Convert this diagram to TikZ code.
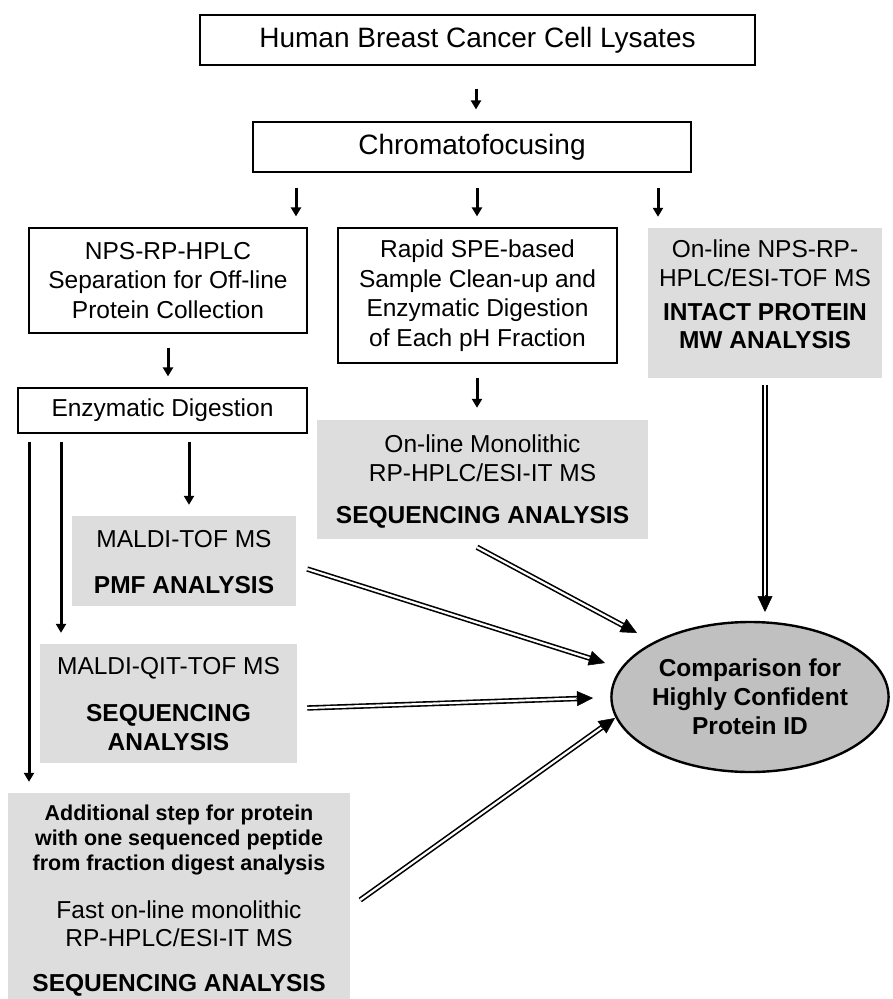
\documentclass[tikz,border=0pt]{standalone}
\usepackage{fontspec}
\setmainfont{Liberation Sans}
\usetikzlibrary{arrows.meta,calc,shapes.geometric}
\definecolor{boxgrey}{HTML}{DDDDDD}
\definecolor{ellgrey}{HTML}{C0C0C0}
\newcommand\dblarrow[2]{%
  \draw[dbl, shorten >=12pt] (#1) -- (#2);
  \draw[dtip] ($(#2)!17pt!(#1)$) -- (#2);}
\begin{document}
\begin{tikzpicture}[x=1pt,y=-1pt,
  wbox/.style={draw=black, line width=1.2pt, fill=white, inner sep=0pt, rectangle},
  gbox/.style={fill=boxgrey, inner sep=0pt, rectangle},
  txt/.style={inner sep=0pt, align=center, font=\fontsize{24.5}{29.5}\selectfont},
  btxt/.style={inner sep=0pt, align=center, font=\fontsize{24.5}{28.5}\selectfont\bfseries},
  stxt/.style={inner sep=0pt, align=center, font=\fontsize{21.5}{25}\selectfont\bfseries},
  bigtxt/.style={inner sep=0pt, align=center, font=\fontsize{28}{33}\selectfont},
  sarrow/.style={line width=3pt, -{Triangle[length=9pt,width=10pt]}},
  dbl/.style={draw=black, line width=1.6pt, double=white, double distance=2.2pt},
  dtip/.style={line width=0.5pt, -{Triangle[length=16pt,width=15pt]}},
]
\useasboundingbox (0,0) rectangle (892,999);

% white boxes
\node[wbox, bigtxt, minimum width=555pt, minimum height=50pt] (lys) at (477.5,40) {Human Breast Cancer Cell Lysates};
\node[wbox, bigtxt, minimum width=438pt, minimum height=50pt] (chr) at (472,147) {Chromatofocusing};
\node[wbox, txt, minimum width=278pt, minimum height=105pt] (nps) at (168,280.5) {NPS-RP-HPLC\\Separation for Off-line\\Protein Collection};
\node[wbox, txt, minimum width=279pt, minimum height=135pt] (rapid) at (477.5,295.5) {Rapid SPE-based\\Sample Clean-up and\\Enzymatic Digestion\\of Each pH Fraction};
\node[wbox, txt, minimum width=289pt, minimum height=45pt] (enz) at (162.5,410.5) {Enzymatic Digestion};

% grey boxes
\node[gbox, minimum width=234pt, minimum height=150pt] (rbox) at (765,303) {};
\node[txt] (trb1) at (765,263) {On-line NPS-RP-\\HPLC/ESI-TOF MS};
\node[btxt] (trb2) at (765,326) {INTACT PROTEIN\\MW ANALYSIS};

\node[gbox, minimum width=331pt, minimum height=119pt] (mono) at (482.5,479.5) {};
\node[txt] (tmo1) at (482.5,458) {On-line Monolithic\\RP-HPLC/ESI-IT MS};
\node[btxt] (tmo2) at (482.5,517) {SEQUENCING ANALYSIS};

\node[gbox, minimum width=224pt, minimum height=90pt] (maldi) at (184,561) {};
\node[txt] (tma1) at (184,539) {MALDI-TOF MS};
\node[btxt] (tma2) at (184,585) {PMF ANALYSIS};

\node[gbox, minimum width=257pt, minimum height=119pt] (qit) at (168.5,703.5) {};
\node[txt] (tq1) at (168.5,668) {MALDI-QIT-TOF MS};
\node[btxt] (tq2) at (168.5,727.5) {SEQUENCING\\ANALYSIS};

\node[gbox, minimum width=342pt, minimum height=206pt] (bot) at (179,896) {};
\node[stxt] (tb1) at (179,840) {Additional step for protein\\with one sequenced peptide\\from fraction digest analysis};
\node[txt, font=\fontsize{24.5}{28}\selectfont] (tb2) at (179,924) {Fast on-line monolithic\\RP-HPLC/ESI-IT MS};
\node[btxt] (tb3) at (179,985) {SEQUENCING ANALYSIS};

% ellipse
\node[ellipse, draw=black, line width=2.4pt, fill=ellgrey, minimum width=246pt, minimum height=150pt, inner sep=0pt,
      align=center, font=\fontsize{24.5}{29}\selectfont\bfseries] (ell) at (750,697) {Comparison for\\Highly Confident\\Protein ID};

% single arrows
\coordinate (xa) at (476,0);
\coordinate (xb1) at (296,0);
\coordinate (xb2) at (477,0);
\coordinate (xb3) at (658,0);
\coordinate (xc1) at (189,0);
\coordinate (xc2) at (61,0);
\coordinate (xc3) at (29,0);
\draw[sarrow, shorten <=23pt, shorten >=12pt] (lys.south -| xa) -- (chr.north -| xa);
\draw[sarrow, shorten <=15pt, shorten >=11pt] (chr.south -| xb1) -- (nps.north -| xb1);
\draw[sarrow, shorten <=15pt, shorten >=11pt] (chr.south -| xb2) -- (rapid.north -| xb2);
\draw[sarrow, shorten <=15pt, shorten >=11pt] (chr.south -| xb3) -- (rbox.north -| xb3);
\draw[sarrow, shorten <=14pt, shorten >=11pt] (nps.south) -- (enz.north -| nps.south);
\draw[sarrow, shorten <=14pt, shorten >=12pt] (rapid.south -| xb2) -- (mono.north -| xb2);
\draw[sarrow, shorten <=8pt, shorten >=11pt] (enz.south -| xc1) -- (maldi.north -| xc1);
\draw[sarrow, shorten <=8pt, shorten >=11pt] (enz.south -| xc2) -- (qit.north -| xc2);
\draw[sarrow, shorten <=8pt, shorten >=11pt] (enz.south -| xc3) -- (bot.north -| xc3);

% double arrows
\coordinate (s1) at ([shift={(-5.5,8)}]mono.south);
\coordinate (e1) at ([shift={(-113,-64)}]ell.center);
\coordinate (s2) at ([shift={(11,8)}]maldi.east);
\coordinate (e2) at ([shift={(-145,-34)}]ell.center);
\coordinate (s3) at ([shift={(10,4.5)}]qit.east);
\coordinate (e3) at ([shift={(-157,1)}]ell.center);
\coordinate (s4) at ([shift={(10,4)}]bot.east);
\coordinate (e4) at ([shift={(-135,21)}]ell.center);
\coordinate (s5) at ([shift={(0,7)}]rbox.south);
\coordinate (e5) at ([shift={(15,-85)}]ell.center);
\dblarrow{s1}{e1}
\dblarrow{s2}{e2}
\dblarrow{s3}{e3}
\dblarrow{s4}{e4}
\dblarrow{s5}{e5}
\end{tikzpicture}
\end{document}
